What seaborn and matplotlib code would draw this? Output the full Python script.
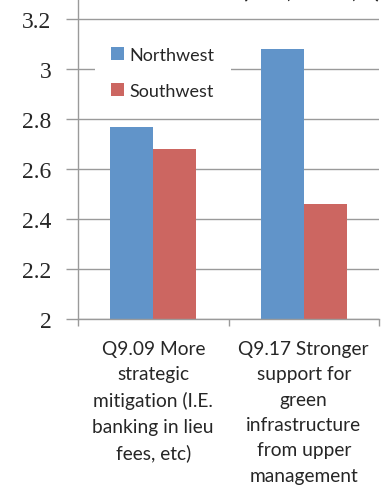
import matplotlib
matplotlib.use("Agg")
import matplotlib.pyplot as plt
import seaborn as sns
import pandas as pd

# data
categories = ["Q9.09 More\nstrategic\nmitigation (I.E.\nbanking in lieu\nfees, etc)",
              "Q9.17 Stronger\nsupport for\ngreen\ninfrastructure\nfrom upper\nmanagement"]
regions = ["Northwest", "Southwest"]
northwest = [2.77, 3.08]
southwest = [2.68, 2.46]
colors = ["#6194C9", "#CC6661"]

df = pd.DataFrame({
    "question": categories * 2,
    "region": [regions[0]] * 2 + [regions[1]] * 2,
    "score": northwest + southwest,
})

sns.set_style("white")
plt.rcParams["font.family"] = ["Lato", "DejaVu Sans"]

W, H = 382, 489
fig = plt.figure(figsize=(W / 100, H / 100), dpi=100)
# axes runs past the top edge, as in the cropped original
ax = fig.add_axes([78 / W, 1 - 320 / H, 301 / W, 350 / H])

sns.barplot(data=df, x="question", y="score", hue="region", palette=colors,
            width=0.572, gap=0, saturation=1, ax=ax, edgecolor="none")

grid_col = "#9A9A9A"
ax.set_ylim(2, 3.4)
ax.set_yticks([2, 2.2, 2.4, 2.6, 2.8, 3, 3.2])
ax.set_yticklabels(["2", "2.2", "2.4", "2.6", "2.8", "3", "3.2"],
                   family="Liberation Serif", fontsize=17)
ax.yaxis.grid(True, color=grid_col, linewidth=1.0)
ax.set_axisbelow(True)
ax.tick_params(axis="y", length=9, width=1.0, color=grid_col, pad=10, left=True)

ax.set_xlim(-0.5, 1.5)
ax.set_xticks([0, 1])
ax.set_xticklabels(categories, fontsize=13.8, linespacing=1.6, va="top")
ax.set_xticks([-0.5, 0.5, 1.5], minor=True)
ax.tick_params(axis="x", which="major", length=0, pad=15)
ax.tick_params(axis="x", which="minor", length=5, width=1.0, color=grid_col, bottom=True)
ax.set_xlabel("")
ax.set_ylabel("")

for s in ["top", "right"]:
    ax.spines[s].set_visible(False)
for s in ["left", "bottom"]:
    ax.spines[s].set_color(grid_col)
    ax.spines[s].set_linewidth(1.0)

leg = ax.legend(loc="upper left", bbox_to_anchor=(0.025, 0.85), frameon=True,
                fontsize=13, handlelength=0.75, handleheight=0.75, handletextpad=0.3,
                labelspacing=1.1, borderpad=0.9)
leg.get_frame().set_facecolor("white")
leg.get_frame().set_edgecolor("none")
leg.get_frame().set_alpha(1)

# bottom of the cropped title
fig.text(312 / W, 1 + 3 / H, "(1–5, mean, n)", ha="center", va="baseline",
         fontsize=16, fontweight="bold")

fig.savefig("out.png", dpi=100)
